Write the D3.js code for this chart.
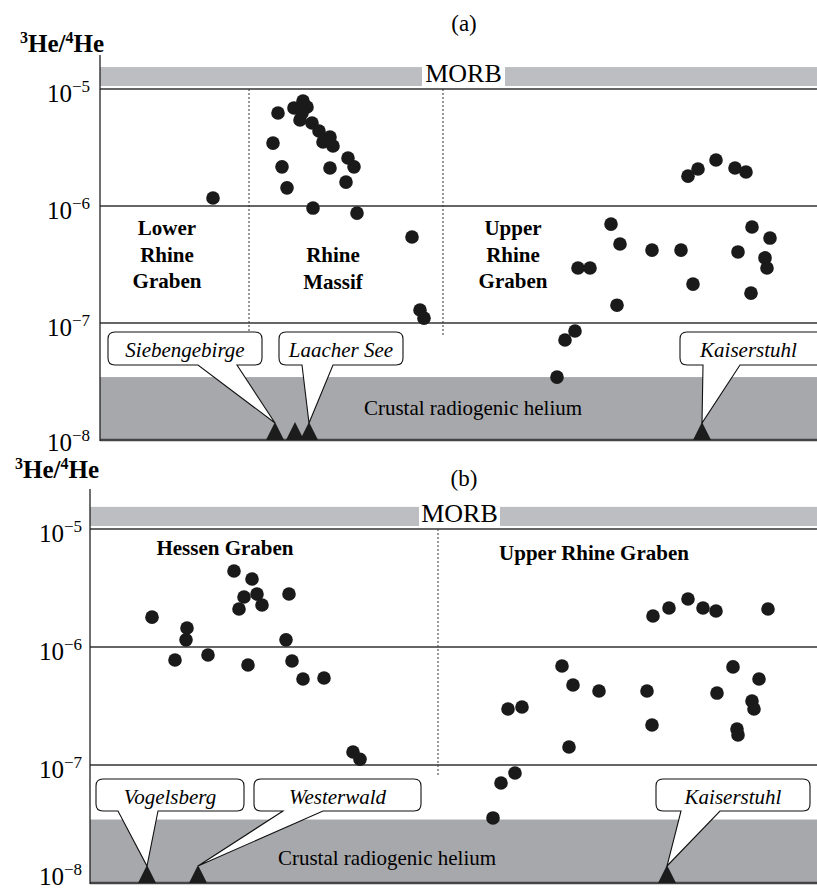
<!DOCTYPE html>
<html>
<head>
<meta charset="utf-8">
<script src="https://cdn.jsdelivr.net/npm/d3@7"></script>
<style>
  body { margin: 0; background: #fff; }
  svg, svg text { font-family: 'Liberation Serif', 'DejaVu Serif', serif; }
</style>
</head>
<body>
<div id="chart"></div>
<script>
const WIDTH = 817;
const HEIGHT = 890;

// y axis (log) – decades shown and their exponents
const yTicks = [1e-5, 1e-6, 1e-7, 1e-8];
const tickExponents = ['\u22125', '\u22126', '\u22127', '\u22128'];
const morbRange = [1.06e-5, 1.54e-5];
const crustalRange = [1e-8, 3.45e-8];

// panel (a): [sample position, 3He/4He]
const aLowerRhine = [[113, 1.17e-6]];
const aRhineMassif = [
  [178, 6.24e-6], [203, 7.89e-6], [194, 6.89e-6], [207, 7.02e-6], [202, 6.24e-6],
  [200, 5.43e-6], [212, 5.12e-6], [219, 4.37e-6], [230, 3.89e-6], [223, 3.52e-6],
  [233, 3.26e-6], [173, 3.45e-6], [182, 2.16e-6], [230, 2.11e-6], [248, 2.57e-6],
  [254, 2.16e-6], [246, 1.60e-6], [187, 1.43e-6], [213, 9.6e-7], [257, 8.7e-7],
  [312, 5.43e-7], [320, 1.29e-7], [324, 1.10e-7]
];
const aUpperRhine = [
  [588, 1.80e-6], [598, 2.07e-6], [616, 2.47e-6], [635, 2.11e-6], [646, 1.95e-6],
  [511, 7.0e-7], [520, 4.73e-7], [552, 4.2e-7], [581, 4.2e-7], [652, 6.62e-7],
  [670, 5.32e-7], [638, 4.05e-7], [665, 3.6e-7], [667, 2.95e-7], [478, 2.95e-7],
  [490, 2.95e-7], [593, 2.15e-7], [651, 1.80e-7], [517, 1.42e-7], [475, 8.55e-8],
  [465, 7.16e-8], [457, 3.45e-8]
];
const aVolcanoes = [175, 195, 209, 602];
const aDividers = [149, 343];

// panel (b)
const bHessen = [
  [62, 1.79e-6], [97, 1.45e-6], [96, 1.15e-6], [85, 7.76e-7], [118, 8.55e-7],
  [144, 4.41e-6], [162, 3.77e-6], [154, 2.65e-6], [167, 2.81e-6], [172, 2.27e-6],
  [149, 2.10e-6], [199, 2.81e-6], [196, 1.15e-6], [202, 7.6e-7], [158, 7.03e-7],
  [213, 5.36e-7], [234, 5.46e-7], [263, 1.29e-7], [270, 1.12e-7]
];
const bUpperRhine = [
  [563, 1.83e-6], [579, 2.14e-6], [598, 2.55e-6], [613, 2.14e-6], [626, 2.02e-6],
  [678, 2.10e-6], [472, 6.9e-7], [483, 4.76e-7], [509, 4.24e-7], [557, 4.24e-7],
  [643, 6.78e-7], [669, 5.36e-7], [627, 4.07e-7], [662, 3.48e-7], [664, 2.98e-7],
  [418, 2.98e-7], [432, 3.10e-7], [562, 2.18e-7], [647, 2.02e-7], [648, 1.80e-7],
  [479, 1.42e-7], [425, 8.55e-8], [411, 7.03e-8], [403, 3.56e-8]
];
const bVolcanoes = [57, 108, 577];
const bDividers = [348];

// callout names, which volcano they point at
const aCalloutNames = ['Siebengebirge', 'Laacher See', 'Kaiserstuhl'];
const aCalloutTargets = [175, 209, 602];
const bCalloutNames = ['Vogelsberg', 'Westerwald', 'Kaiserstuhl'];
const bCalloutTargets = [57, 108, 577];

// layout of callout boxes: [box x0, box x1, neck x0, neck x1] in panel units
const aCalloutBoxes = [[8, 162, 98, 137], [179, 303, 202, 233], [580, 724, 603, 640]];
const bCalloutBoxes = [[6, 154, 28, 68], [164, 331, 193, 233], [566, 720, 591, 630]];

const panels = [
  {
    title: '(a)', left: 100, top: 89, bottom: 440, axisTop: 55, domainX: 717,
    titleY: 31, labelY: 52, labelX: 20, tickRight: 90, lastTickDy: 11,
    morbBox: [322, 405], crustalLabelX: 373, crustalLabelY: 415,
    series: [aLowerRhine, aRhineMassif, aUpperRhine],
    volcanoes: aVolcanoes, dividers: aDividers,
    calloutNames: aCalloutNames, calloutTargets: aCalloutTargets, calloutBoxes: aCalloutBoxes,
    boxTop: 9, boxH: 33,
    regionLabels: [
      { x: 67, y: 235, lines: ['Lower', 'Rhine', 'Graben'] },
      { x: 233, y: 262, lines: ['Rhine', 'Massif'] },
      { x: 413, y: 235, lines: ['Upper', 'Rhine', 'Graben'] }
    ]
  },
  {
    title: '(b)', left: 90, top: 529, bottom: 883, axisTop: 489, domainX: 727,
    titleY: 486, labelY: 478, labelX: 15, tickRight: 82, lastTickDy: 2,
    morbBox: [329, 410], crustalLabelX: 297, crustalLabelY: 865,
    series: [bHessen, bUpperRhine],
    volcanoes: bVolcanoes, dividers: bDividers,
    calloutNames: bCalloutNames, calloutTargets: bCalloutTargets, calloutBoxes: bCalloutBoxes,
    boxTop: 14, boxH: 32,
    regionLabels: [
      { x: 135, y: 555, lines: ['Hessen Graben'] },
      { x: 504, y: 560, lines: ['Upper Rhine Graben'] }
    ]
  }
];

const svg = d3.select('#chart')
  .append('svg')
    .attr('width', WIDTH)
    .attr('height', HEIGHT)
    .attr('font-family', 'Liberation Serif, DejaVu Serif, serif');

function drawPanel(p) {
  const x = d3.scaleLinear().domain([0, p.domainX]).range([p.left, WIDTH]);
  const y = d3.scaleLog().domain([1e-8, 1e-5]).range([p.bottom, p.top]);
  const g = svg.append('g');

  // bands
  g.append('rect')
    .attr('x', x(0)).attr('width', WIDTH - x(0))
    .attr('y', y(morbRange[1])).attr('height', y(morbRange[0]) - y(morbRange[1]))
    .attr('fill', '#bdbec2');
  g.append('rect')
    .attr('x', x(0)).attr('width', WIDTH - x(0))
    .attr('y', y(crustalRange[1])).attr('height', y(crustalRange[0]) - y(crustalRange[1]))
    .attr('fill', '#a7a8ac');

  // MORB label knocked out of the band
  g.append('rect')
    .attr('x', x(p.morbBox[0])).attr('width', x(p.morbBox[1]) - x(p.morbBox[0]))
    .attr('y', y(morbRange[1])).attr('height', y(morbRange[0]) - y(morbRange[1]) + 2)
    .attr('fill', '#fff');
  g.append('text')
    .attr('x', (x(p.morbBox[0]) + x(p.morbBox[1])) / 2)
    .attr('y', y(morbRange[0]) - 4)
    .attr('text-anchor', 'middle')
    .attr('font-size', 26)
    .text('MORB');

  // grid lines
  g.selectAll('.grid')
    .data(yTicks.slice(0, 3))
    .enter()
      .append('line')
      .attr('x1', x(0)).attr('x2', WIDTH)
      .attr('y1', d => y(d)).attr('y2', d => y(d))
      .attr('stroke', '#333').attr('stroke-width', 1.3);
  g.append('line')
    .attr('x1', x(0)).attr('x2', WIDTH)
    .attr('y1', y(1e-8)).attr('y2', y(1e-8))
    .attr('stroke', '#444').attr('stroke-width', 2.5);
  g.append('line')
    .attr('x1', x(0)).attr('x2', x(0))
    .attr('y1', p.axisTop).attr('y2', y(1e-8) + 1)
    .attr('stroke', '#222').attr('stroke-width', 1.3);

  // dotted dividers
  g.selectAll('.divider')
    .data(p.dividers)
    .enter()
      .append('line')
      .attr('x1', d => x(d)).attr('x2', d => x(d))
      .attr('y1', y(1e-5)).attr('y2', y(1e-7) + 12)
      .attr('stroke', '#333').attr('stroke-width', 1)
      .attr('stroke-dasharray', '2,2');

  // tick labels 10^n
  const tl = g.selectAll('.tick')
    .data(yTicks)
    .enter()
      .append('text')
      .attr('x', p.tickRight)
      .attr('y', (d, i) => y(d) + (i === 3 ? p.lastTickDy : 13))
      .attr('text-anchor', 'end')
      .attr('font-size', 25);
  tl.append('tspan').text('10');
  tl.append('tspan')
    .attr('font-size', 17)
    .attr('dy', -10)
    .text((d, i) => tickExponents[i]);

  // axis title
  const lab = g.append('text')
    .attr('x', p.labelX).attr('y', p.labelY)
    .attr('font-size', 25).attr('font-weight', 'bold');
  lab.append('tspan').attr('font-size', 16).attr('dy', -9).text('3');
  lab.append('tspan').attr('dy', 9).text('He/');
  lab.append('tspan').attr('font-size', 16).attr('dy', -9).text('4');
  lab.append('tspan').attr('dy', 9).text('He');

  g.append('text')
    .attr('x', 464).attr('y', p.titleY)
    .attr('text-anchor', 'middle')
    .attr('font-size', 23)
    .text(p.title);

  g.append('text')
    .attr('x', x(p.crustalLabelX)).attr('y', p.crustalLabelY)
    .attr('text-anchor', 'middle')
    .attr('font-size', 21)
    .text('Crustal radiogenic helium');

  // region labels
  p.regionLabels.forEach(r => {
    const t = g.append('text')
      .attr('text-anchor', 'middle')
      .attr('font-size', 21).attr('font-weight', 'bold');
    t.selectAll('tspan')
      .data(r.lines)
      .enter()
        .append('tspan')
        .attr('x', x(r.x))
        .attr('y', (d, i) => r.y + i * 26.5)
        .text(d => d);
  });

  // callouts
  const boxTop = y(1e-7) + p.boxTop;
  const tipY = y(1e-8) - 17;
  p.calloutNames.forEach((name, i) => {
    const [b0, b1, n0, n1] = p.calloutBoxes[i].map(x);
    const tx = x(p.calloutTargets[i]);
    const bb = boxTop + p.boxH;
    const r = 7;
    const path = d3.path();
    path.moveTo(b0 + r, boxTop);
    path.lineTo(b1 - r, boxTop);
    path.quadraticCurveTo(b1, boxTop, b1, boxTop + r);
    path.lineTo(b1, bb - r);
    path.quadraticCurveTo(b1, bb, b1 - r, bb);
    path.lineTo(n1, bb);
    path.lineTo(tx, tipY);
    path.lineTo(n0, bb);
    path.lineTo(b0 + r, bb);
    path.quadraticCurveTo(b0, bb, b0, bb - r);
    path.lineTo(b0, boxTop + r);
    path.quadraticCurveTo(b0, boxTop, b0 + r, boxTop);
    path.closePath();
    g.append('path')
      .attr('d', path.toString())
      .attr('fill', '#fff')
      .attr('stroke', '#111')
      .attr('stroke-width', 1.1);
    g.append('text')
      .attr('x', (b0 + Math.min(b1, WIDTH)) / 2)
      .attr('y', boxTop + 25)
      .attr('text-anchor', 'middle')
      .attr('font-size', 21)
      .attr('font-style', 'italic')
      .text(name);
  });

  // volcanic fields
  g.selectAll('.volcano')
    .data(p.volcanoes)
    .enter()
      .append('path')
      .attr('d', d => `M${x(d) - 9},${y(1e-8)} L${x(d)},${y(1e-8) - 18} L${x(d) + 9},${y(1e-8)} Z`)
      .attr('fill', '#1c1c1c');

  // samples
  p.series.forEach(s => {
    g.selectAll(null)
      .data(s)
      .enter()
        .append('circle')
        .attr('cx', d => x(d[0]))
        .attr('cy', d => y(d[1]))
        .attr('r', 6.8)
        .attr('fill', '#1a1a1a');
  });
}

panels.forEach(drawPanel);
</script>
</body>
</html>
